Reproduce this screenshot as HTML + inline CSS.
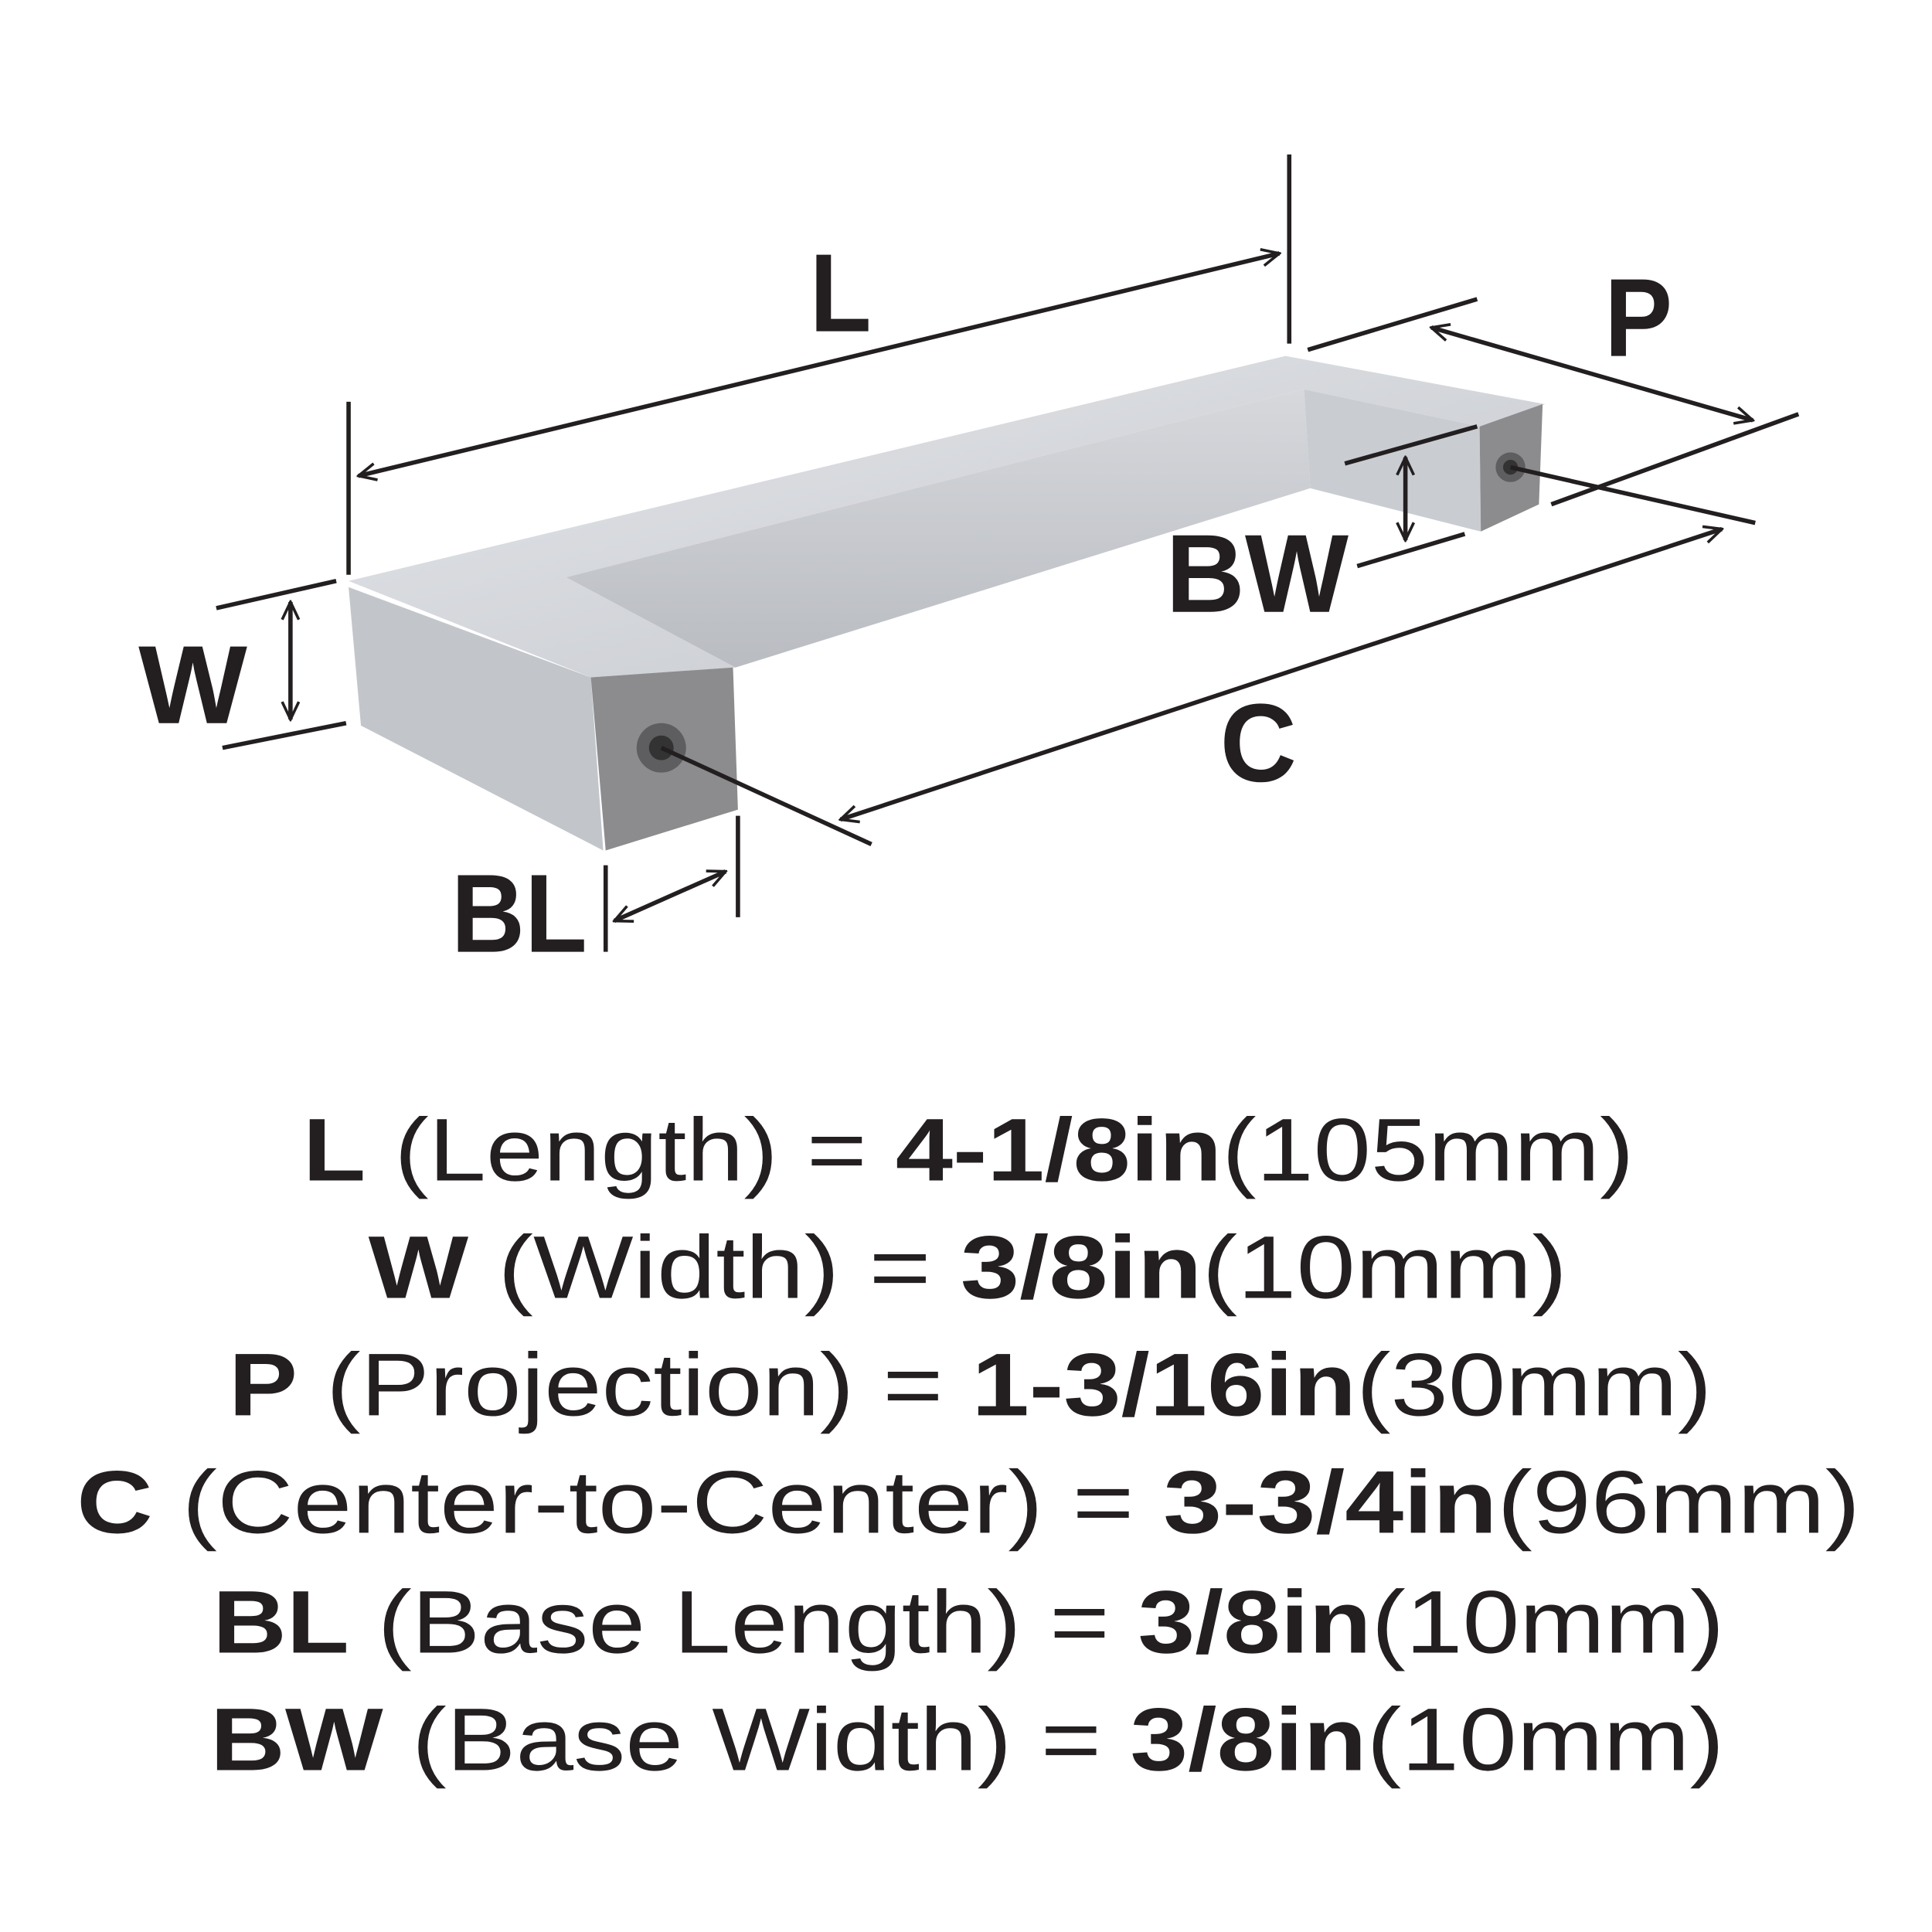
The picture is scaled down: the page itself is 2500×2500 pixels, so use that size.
<!DOCTYPE html>
<html><head><meta charset="utf-8"><style>
html,body{margin:0;padding:0;background:#fff}
svg{display:block}
text{font-family:"Liberation Sans",sans-serif;fill:#231f20}
</style></head><body>
<svg width="2500" height="2500" viewBox="0 0 1563 1563" xmlns="http://www.w3.org/2000/svg">
<defs>
<linearGradient id="g1" x1="0" y1="0" x2="1" y2="1">
<stop offset="0" stop-color="#e4e6ea"/><stop offset="1" stop-color="#c4c7cc"/></linearGradient>
<linearGradient id="g2" x1="0" y1="0" x2="0" y2="1">
<stop offset="0" stop-color="#d6d8dc"/><stop offset="1" stop-color="#b9bcc1"/></linearGradient>
<marker id="a" viewBox="0 0 24 24" refX="22" refY="12" markerWidth="18" markerHeight="18" orient="auto-start-reverse" markerUnits="userSpaceOnUse">
<path d="M3,3 L22,12 L3,21" fill="none" stroke="#231f20" stroke-width="3"/></marker>
</defs>
<polygon points="282,470 1040,288 1250,327 1197,345 1055,315 458,467 595,540 478,548" fill="url(#g1)"/>
<polygon points="458,467 1055,315 1060,395 595,540" fill="url(#g2)"/>
<polygon points="1055,315 1197,345 1198,430 1060,395" fill="#c9ccd1"/>
<polygon points="282,475 478,548 488,688 292,587" fill="#c2c5ca"/>
<polygon points="478,548 593,540 597,655 490,688" fill="#8c8c8e"/>
<circle cx="535" cy="605" r="20" fill="#5e5e60"/><circle cx="535" cy="605" r="10" fill="#333"/>
<polygon points="1197,345 1248,327 1245,408 1198,430" fill="#8c8c8e"/>
<circle cx="1222" cy="378" r="12" fill="#5e5e60"/><circle cx="1222" cy="378" r="6" fill="#333"/>
<g stroke="#231f20" stroke-width="3.5" fill="none">
<line x1="282" y1="325" x2="282" y2="465"/><line x1="1043" y1="125" x2="1043" y2="278"/>
<line x1="290" y1="385" x2="1035" y2="205" marker-start="url(#a)" marker-end="url(#a)"/>
<line x1="1058" y1="283" x2="1195" y2="242"/><line x1="1255" y1="408" x2="1455" y2="335"/>
<line x1="1158" y1="265" x2="1418" y2="340" marker-start="url(#a)" marker-end="url(#a)"/>
<line x1="175" y1="492" x2="272" y2="470"/><line x1="180" y1="605" x2="280" y2="585"/>
<line x1="235" y1="487" x2="235" y2="582" marker-start="url(#a)" marker-end="url(#a)"/>
<line x1="1088" y1="375" x2="1195" y2="345"/><line x1="1098" y1="458" x2="1185" y2="432"/>
<line x1="1137" y1="370" x2="1137" y2="437" marker-start="url(#a)" marker-end="url(#a)"/>
<line x1="535" y1="605" x2="705" y2="683"/><line x1="1222" y1="378" x2="1420" y2="423"/>
<line x1="680" y1="663" x2="1393" y2="428" marker-start="url(#a)" marker-end="url(#a)"/>
<line x1="490" y1="700" x2="490" y2="770"/><line x1="597" y1="660" x2="597" y2="742"/>
<line x1="497" y1="745" x2="587" y2="705" marker-start="url(#a)" marker-end="url(#a)"/>
</g>
<g font-weight="bold" font-size="90">
<text x="655" y="268" textLength="50" lengthAdjust="spacingAndGlyphs">L</text>
<text x="1298" y="288" textLength="55" lengthAdjust="spacingAndGlyphs">P</text>
<text x="112" y="585" textLength="88" lengthAdjust="spacingAndGlyphs">W</text>
<text x="943" y="495" textLength="148" lengthAdjust="spacingAndGlyphs">BW</text>
<text x="987" y="632" textLength="62" lengthAdjust="spacingAndGlyphs">C</text>
<text x="365" y="770" textLength="110" lengthAdjust="spacingAndGlyphs">BL</text>
</g>
<g font-size="72" lengthAdjust="spacingAndGlyphs">
<text x="245" y="955" textLength="1077" lengthAdjust="spacingAndGlyphs"><tspan font-weight="bold">L</tspan> (Length) = <tspan font-weight="bold">4-1/8in</tspan>(105mm)</text>
<text x="298" y="1050" textLength="970" lengthAdjust="spacingAndGlyphs"><tspan font-weight="bold">W</tspan> (Width) = <tspan font-weight="bold">3/8in</tspan>(10mm)</text>
<text x="185" y="1145" textLength="1200" lengthAdjust="spacingAndGlyphs"><tspan font-weight="bold">P</tspan> (Projection) = <tspan font-weight="bold">1-3/16in</tspan>(30mm)</text>
<text x="62" y="1240" textLength="1443" lengthAdjust="spacingAndGlyphs"><tspan font-weight="bold">C</tspan> (Center-to-Center) = <tspan font-weight="bold">3-3/4in</tspan>(96mm)</text>
<text x="172" y="1337" textLength="1223" lengthAdjust="spacingAndGlyphs"><tspan font-weight="bold">BL</tspan> (Base Length) = <tspan font-weight="bold">3/8in</tspan>(10mm)</text>
<text x="170" y="1432" textLength="1225" lengthAdjust="spacingAndGlyphs"><tspan font-weight="bold">BW</tspan> (Base Width) = <tspan font-weight="bold">3/8in</tspan>(10mm)</text>
</g>
</svg>
</body></html>
